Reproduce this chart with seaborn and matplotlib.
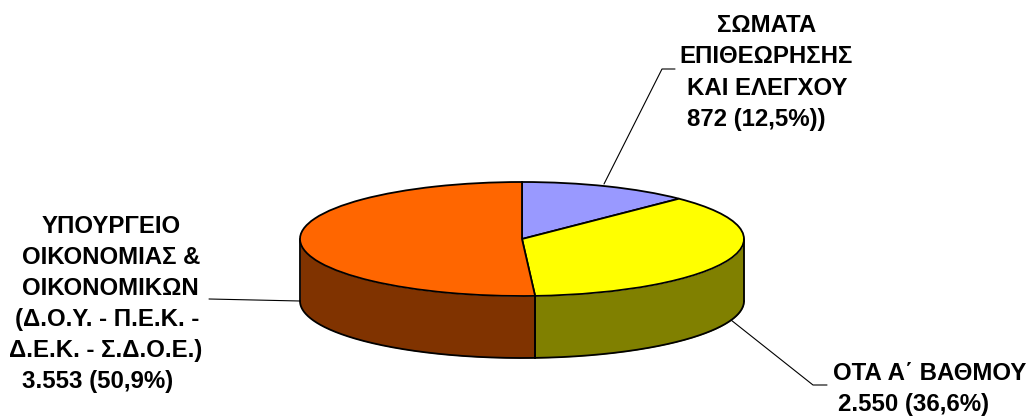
import numpy as np
import matplotlib
matplotlib.use('Agg')
import matplotlib.pyplot as plt
import seaborn as sns

# data
categories = ['ΣΩΜΑΤΑ ΕΠΙΘΕΩΡΗΣΗΣ ΚΑΙ ΕΛΕΓΧΟΥ', 'ΟΤΑ Α΄ ΒΑΘΜΟΥ', 'ΥΠΟΥΡΓΕΙΟ ΟΙΚΟΝΟΜΙΑΣ & ΟΙΚΟΝΟΜΙΚΩΝ']
values = [872, 2550, 3553]
top_colors = ['#9999FF', '#FFFF00', '#FF6600']
side_colors = ['#4D4D80', '#808000', '#803300']

# picture geometry, in pixels
W, H = 1030, 416
CX, CY, RX, RY, DEPTH = 522, 239, 222, 57, 62


def dx(px):
    return (px - CX) / RX


def dy(py):
    return (CY - py) / RY


sns.set_theme(style='white')
plt.rcParams['font.family'] = ['Liberation Sans', 'DejaVu Sans']

fig = plt.figure(figsize=(W / 100, H / 100), dpi=100)
ax = fig.add_axes([0, 0, 1, 1])

ax.pie(values, colors=top_colors, startangle=90, counterclock=False, radius=1,
       wedgeprops={'edgecolor': 'black', 'linewidth': 1.3, 'zorder': 3})
ax.set_aspect('auto')
ax.set_xlim(dx(0), dx(W))
ax.set_ylim(dy(H), dy(0))

# side of the pie: front half of each slice pushed down by the depth
depth = DEPTH / RY
edges = np.cumsum([0] + values) / sum(values) * 2 * np.pi
for a, b, col in zip(edges[:-1], edges[1:], side_colors):
    lo, hi = max(a, np.pi / 2), min(b, 3 * np.pi / 2)
    if hi <= lo:
        continue
    t = np.linspace(lo, hi, 200)
    x = np.sin(t)
    y = np.cos(t)
    ax.fill_between(x, y, y - depth, color=col, linewidth=0, zorder=1)
    ax.plot(x, y - depth, color='black', lw=1.3, zorder=2)
    ax.plot([x[0], x[0]], [y[0], y[0] - depth], color='black', lw=1.3, zorder=2)
    ax.plot([x[-1], x[-1]], [y[-1], y[-1] - depth], color='black', lw=1.3, zorder=2)

# leader lines
leaders = [
    [(675, 69), (662, 69), (604, 184)],
    [(731, 320), (813, 385), (827, 385)],
    [(209, 299), (300, 301)],
]
for pts in leaders:
    ax.plot([dx(p[0]) for p in pts], [dy(p[1]) for p in pts], color='black', lw=0.8, zorder=2)

# labels: (x centre, baseline y, text)
labels = [
    (767, 32, 'ΣΩΜΑΤΑ'),
    (766, 63, 'ΕΠΙΘΕΩΡΗΣΗΣ'),
    (767, 95, 'ΚΑΙ ΕΛΕΓΧΟΥ'),
    (756, 126, '872 (12,5%))'),
    (930, 380, 'ΟΤΑ Α΄ ΒΑΘΜΟΥ'),
    (914, 411, '2.550 (36,6%)'),
    (111, 233, 'ΥΠΟΥΡΓΕΙΟ'),
    (111, 264, 'ΟΙΚΟΝΟΜΙΑΣ &'),
    (110, 295, 'ΟΙΚΟΝΟΜΙΚΩΝ'),
    (107, 326, '(Δ.Ο.Υ. - Π.Ε.Κ. -'),
    (106, 357, 'Δ.Ε.Κ. - Σ.Δ.Ο.Ε.)'),
    (98, 388, '3.553 (50,9%)'),
]
for px, py, txt in labels:
    ax.text(dx(px), dy(py), txt, ha='center', va='baseline', fontsize=17.3,
            fontweight='bold', color='black')

ax.axis('off')
fig.savefig('out.png', dpi=100, facecolor='white')
